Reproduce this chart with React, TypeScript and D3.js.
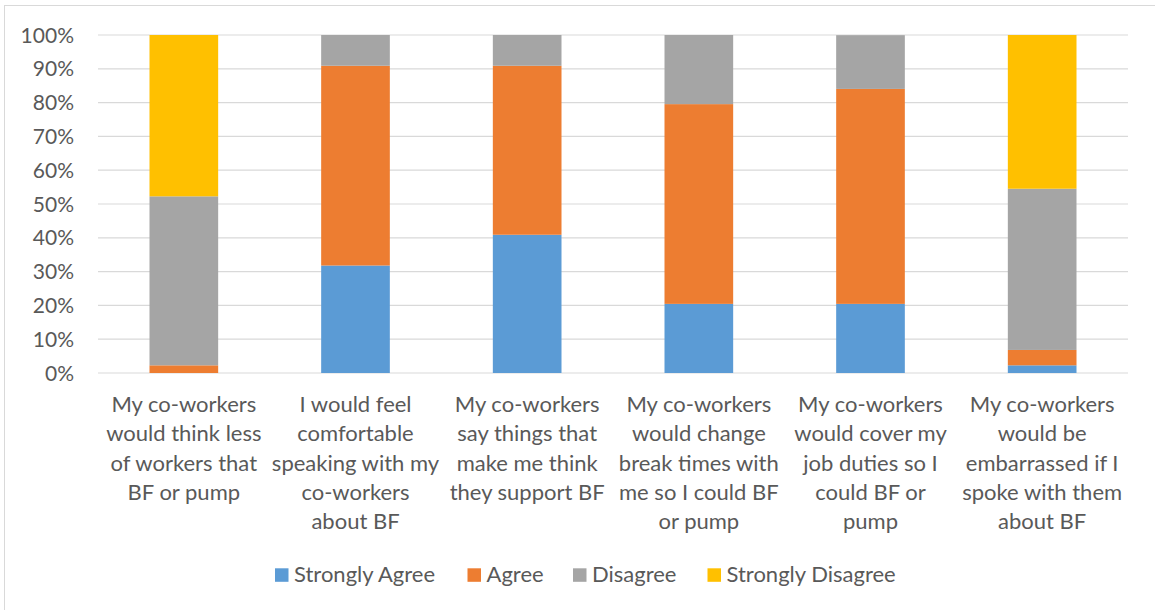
import React from "react";
import * as d3 from "d3";

const categories: string[][] = [
  ["My co-workers", "would think less", "of workers that", "BF or pump"],
  ["I would feel", "comfortable", "speaking with my", "co-workers", "about BF"],
  ["My co-workers", "say things that", "make me think", "they support BF"],
  ["My co-workers", "would change", "break times with", "me so I could BF", "or pump"],
  ["My co-workers", "would cover my", "job duties so I", "could BF or", "pump"],
  ["My co-workers", "would be", "embarrassed if I", "spoke with them", "about BF"],
];

const seriesNames = ["Strongly Agree", "Agree", "Disagree", "Strongly Disagree"];
const stronglyAgree = [0, 31.8, 40.9, 20.45, 20.45, 2.27];
const agree = [2.27, 59.1, 50.0, 59.1, 63.6, 4.55];
const disagree = [50.0, 9.1, 9.1, 20.45, 15.9, 47.7];
const stronglyDisagree = [47.73, 0, 0, 0, 0, 45.48];
const colors = ["#5B9BD5", "#ED7D31", "#A5A5A5", "#FFC000"];
const yTicks = [0, 10, 20, 30, 40, 50, 60, 70, 80, 90, 100];

const W = 1155;
const H = 610;
const plot = { left: 98, right: 1128, top: 35, bottom: 373 };
const font = "Lato, 'Open Sans', sans-serif";
const textColor = "#595959";

export default function App() {
  const idx = categories.map((_, i) => String(i));
  const x = d3.scaleBand<string>().domain(idx).range([plot.left, plot.right]).paddingInner(0).paddingOuter(0);
  const y = d3.scaleLinear().domain([0, 100]).range([plot.bottom, plot.top]);
  const barW = x.bandwidth() * 0.4;

  const rows = categories.map((_, i) => ({
    key: String(i),
    s0: stronglyAgree[i],
    s1: agree[i],
    s2: disagree[i],
    s3: stronglyDisagree[i],
  }));
  const stack = d3.stack<any>().keys(["s0", "s1", "s2", "s3"])(rows);

  const legendX = [275, 467.5, 573, 707.5];

  return (
    <div style={{ position: "absolute", left: 0, top: 0 }}>
      <svg width={W} height={H} style={{ display: "block" }}>
        <rect x={0} y={0} width={W} height={H} fill="#fff" />
        <rect x={4.5} y={5.5} width={W + 10} height={H + 10} fill="none" stroke="#d9d9d9" strokeWidth={1} />
        {yTicks.map((t) => (
          <g key={t}>
            <line x1={plot.left} x2={plot.right} y1={y(t)} y2={y(t)} stroke="#d9d9d9" strokeWidth={1.2} />
            <text x={74} y={y(t)} dy="0.36em" textAnchor="end" fontFamily={font} fontSize={21} fill={textColor}>
              {t}%
            </text>
          </g>
        ))}
        {stack.map((layer, si) => (
          <g key={si} fill={colors[si]}>
            {layer.map((d, ci) => {
              const h = y(d[0]) - y(d[1]);
              if (h <= 0) return null;
              return (
                <rect
                  key={ci}
                  x={(x(String(ci)) as number) + (x.bandwidth() - barW) / 2}
                  y={y(d[1])}
                  width={barW}
                  height={h}
                />
              );
            })}
          </g>
        ))}
        {categories.map((lines, ci) => (
          <text
            key={ci}
            x={(x(String(ci)) as number) + x.bandwidth() / 2}
            textAnchor="middle"
            fontFamily={font}
            fontSize={22}
            fill={textColor}
          >
            {lines.map((l, li) => (
              <tspan key={li} x={(x(String(ci)) as number) + x.bandwidth() / 2} y={412 + li * 29.3}>
                {l}
              </tspan>
            ))}
          </text>
        ))}
        {seriesNames.map((n, i) => (
          <g key={n}>
            <rect x={legendX[i]} y={568.3} width={13.5} height={13.5} fill={colors[i]} />
            <text x={legendX[i] + 19} y={581.7} fontFamily={font} fontSize={22} fill={textColor}>
              {n}
            </text>
          </g>
        ))}
      </svg>
    </div>
  );
}
